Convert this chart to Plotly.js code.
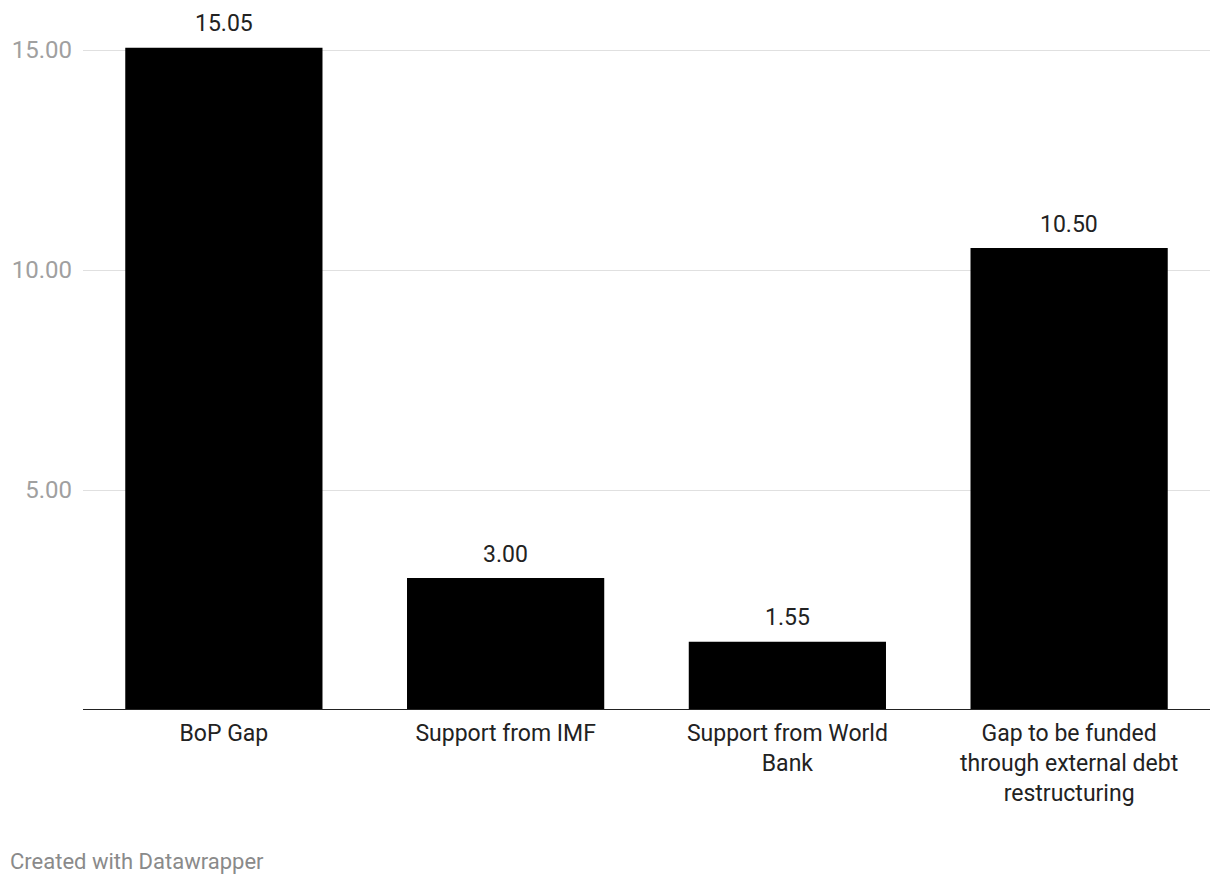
<!DOCTYPE html>
<html>
<head>
<meta charset="utf-8">
<script src="https://cdn.plot.ly/plotly-3.0.1.min.js"></script>
<style>
  html, body { margin: 0; padding: 0; background: #ffffff; }
  #chart { width: 1220px; height: 886px; }
</style>
</head>
<body>
<div id="chart"></div>
<script>
// Data
const categories = ['BoP Gap', 'Support from IMF', 'Support from World Bank', 'Gap to be funded through external debt restructuring'];
const tickLabels = ['BoP Gap', 'Support from IMF', 'Support from World<br>Bank', 'Gap to be funded<br>through external debt<br>restructuring'];
const values = [15.05, 3.00, 1.55, 10.50];
const yTicks = [5, 10, 15];
const yTickText = ['5.00', '10.00', '15.00'];

const font = 'Roboto, "Noto Sans", sans-serif';

const trace = {
    x: categories,
    y: values,
    type: 'bar',
    marker: { color: '#000000' },
    hoverinfo: 'skip'
};

// value labels above each bar
const valueLabels = categories.map((c, i) => ({
    x: c,
    y: values[i],
    xref: 'x', yref: 'y',
    text: values[i].toFixed(2),
    showarrow: false,
    yanchor: 'middle',
    yshift: 24,
    font: { family: font, size: 23, color: '#222222' }
}));

const layout = {
    width: 1220,
    height: 886,
    paper_bgcolor: '#ffffff',
    plot_bgcolor: '#ffffff',
    margin: { t: 30, r: 10, b: 176, l: 83 },
    bargap: 0.3,
    showlegend: false,
    xaxis: {
        tickvals: categories,
        ticktext: tickLabels,
        ticks: '',
        showgrid: false,
        zeroline: false,
        showline: false,
        ticklabelstandoff: 7,
        tickfont: { family: font, size: 23, color: '#222222' }
    },
    yaxis: {
        range: [0, 15.4545],
        tickvals: yTicks,
        ticktext: yTickText,
        ticks: '',
        showgrid: true,
        gridcolor: '#e0e0e0',
        gridwidth: 1,
        zeroline: false,
        showline: false,
        ticklabelstandoff: 10,
        tickfont: { family: font, size: 24, color: '#a0a0a0' }
    },
    shapes: [{
        type: 'line',
        xref: 'paper', yref: 'y',
        x0: 0, x1: 1, y0: 0, y1: 0,
        line: { color: '#222222', width: 2 },
        layer: 'above'
    }],
    annotations: valueLabels.concat([{
        xref: 'paper', yref: 'paper',
        x: -0.0665, y: -0.2235,
        xanchor: 'left', yanchor: 'middle',
        text: 'Created with Datawrapper',
        showarrow: false,
        font: { family: font, size: 22, color: '#8a8a8a' }
    }])
};

Plotly.newPlot('chart', [trace], layout, { displayModeBar: false, staticPlot: true });
</script>
</body>
</html>
